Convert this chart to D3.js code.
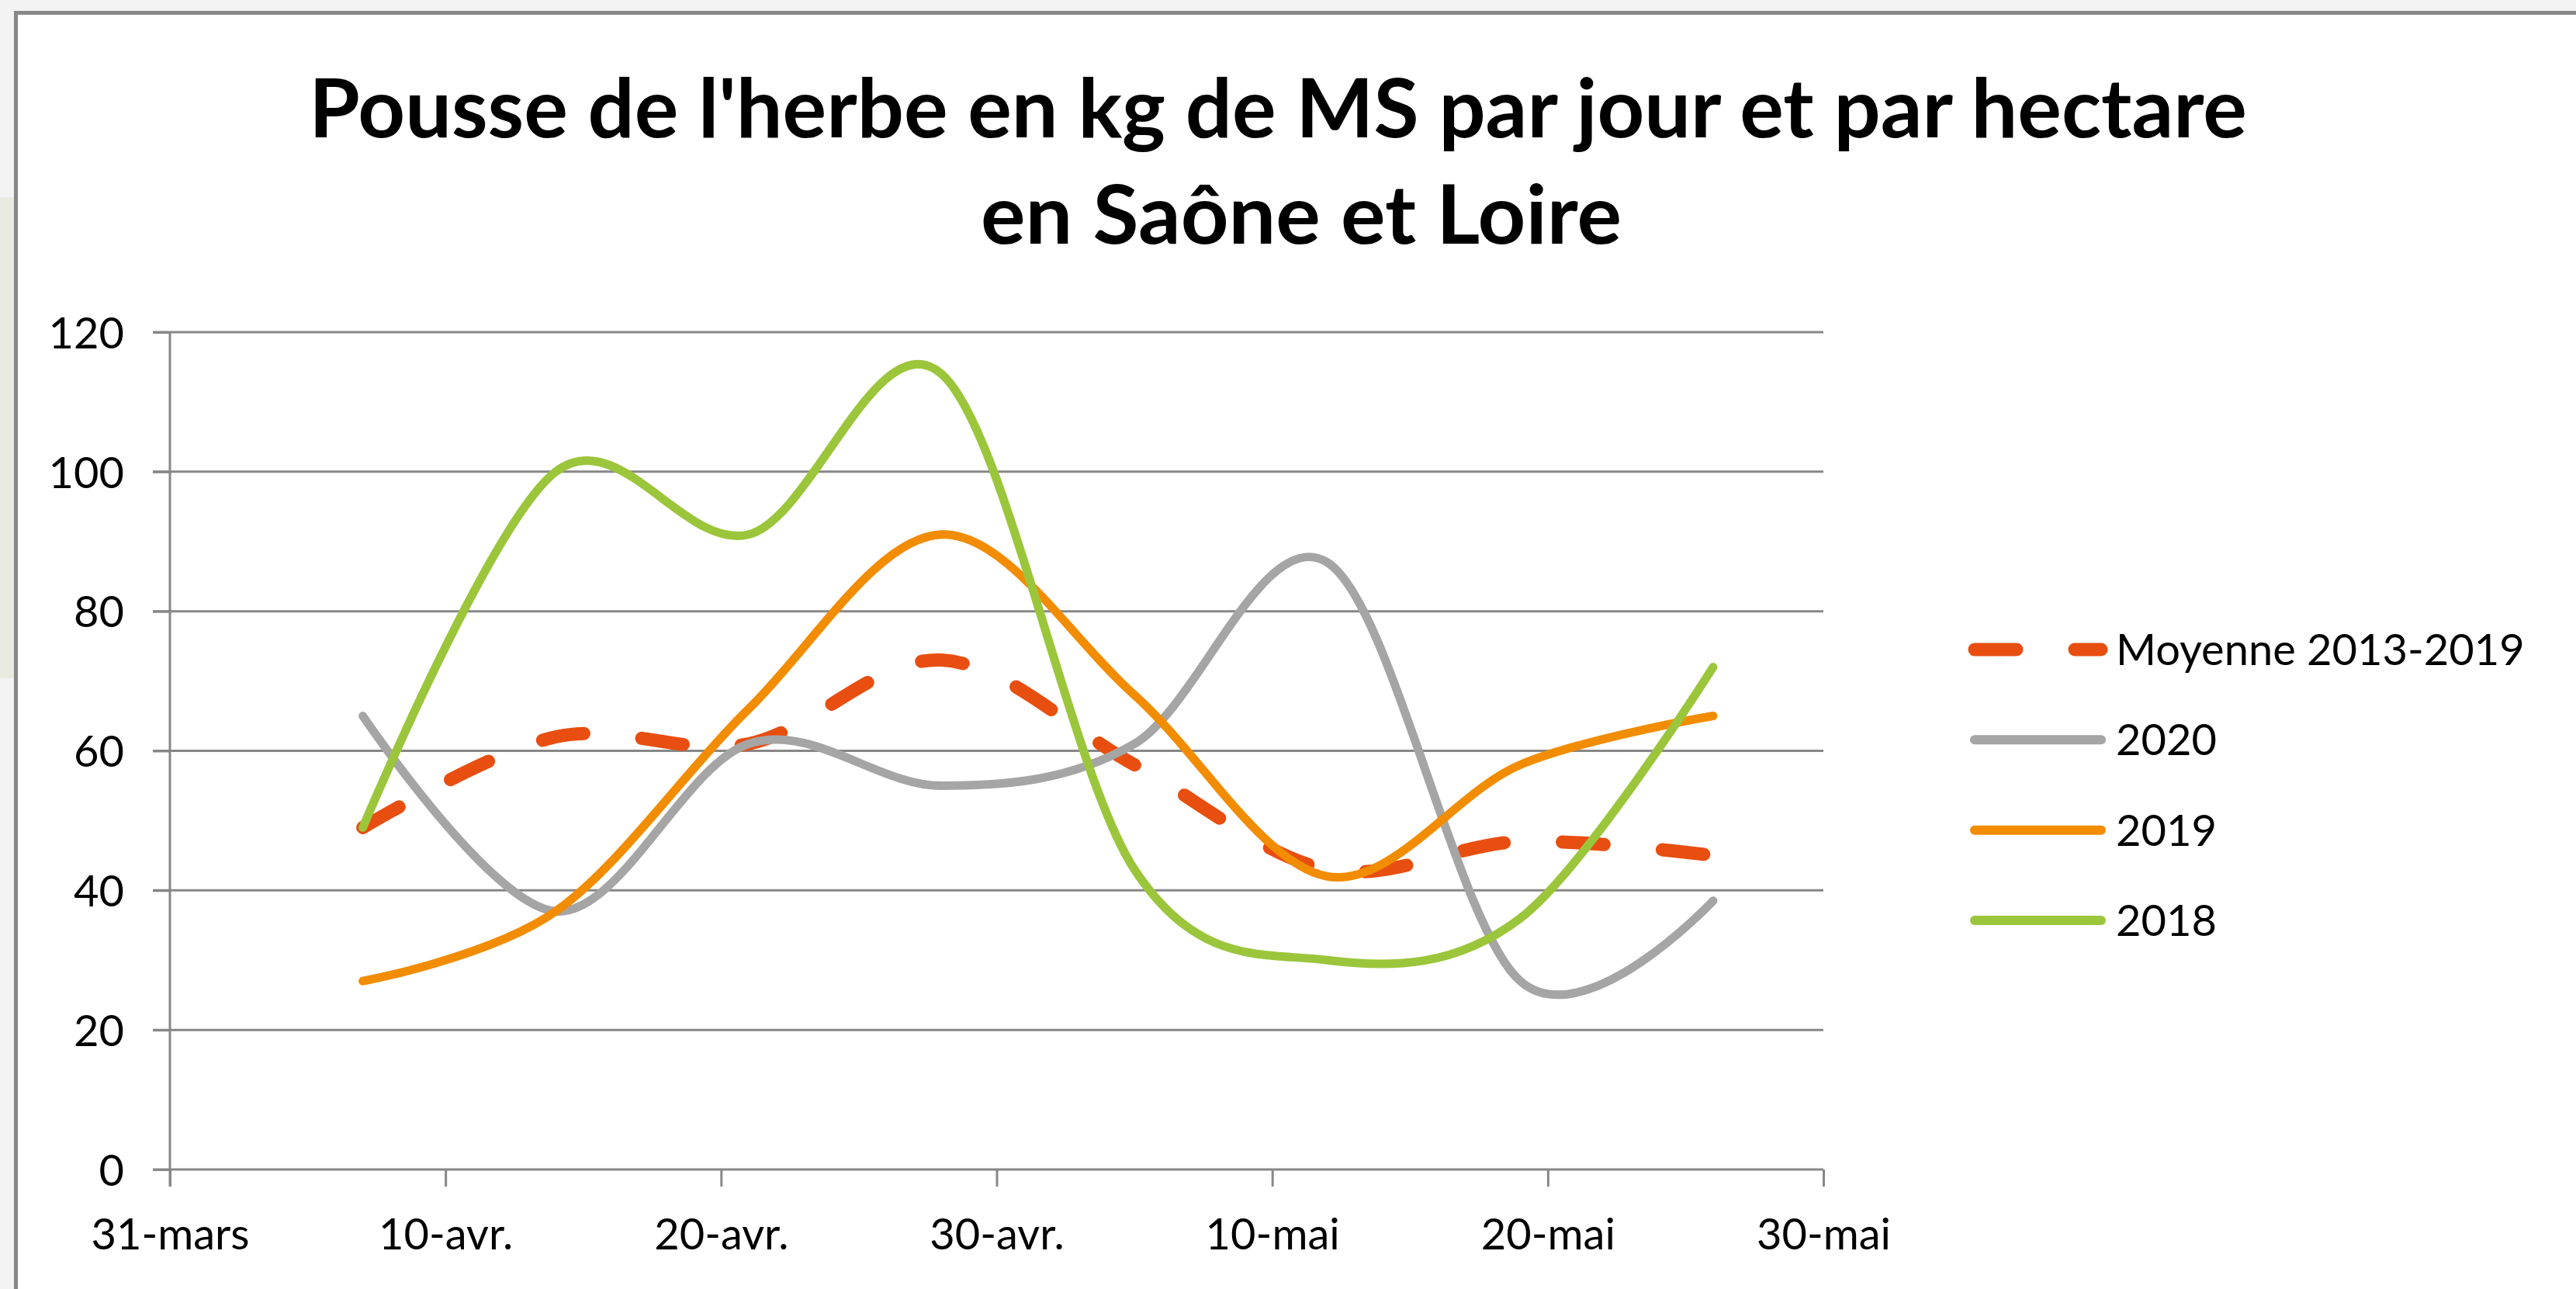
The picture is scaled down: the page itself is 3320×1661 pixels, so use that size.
<!DOCTYPE html>
<html>
<head>
<meta charset="utf-8">
<script src="https://cdn.jsdelivr.net/npm/d3@7"></script>
<style>
  html, body { margin: 0; padding: 0; background: #f2f2f2; }
  svg { display: block; }
</style>
</head>
<body>
<svg id="chart" width="3320" height="1661"></svg>
<script>
// ---------- data ----------
const dates = ["2020-04-07","2020-04-14","2020-04-21","2020-04-28","2020-05-05","2020-05-12","2020-05-19","2020-05-26"];
const moyenne = [49, 62, 61, 73, 58, 43, 47, 45];
const y2020   = [65, 37, 61, 55, 61, 87, 27, 38.5];
const y2019   = [27, 37, 66, 91, 68, 42, 58, 65];
const y2018   = [49, 100, 91, 114, 43, 30, 36, 72];
const seriesNames = ["Moyenne 2013-2019", "2020", "2019", "2018"];
const xTickDates  = ["2020-03-31","2020-04-10","2020-04-20","2020-04-30","2020-05-10","2020-05-20","2020-05-30"];
const xTickLabels = ["31-mars","10-avr.","20-avr.","30-avr.","10-mai","20-mai","30-mai"];
const yTicks = [0, 20, 40, 60, 80, 100, 120];
const titleLines = ["Pousse de l'herbe en kg de MS par jour et par hectare", "en Saône et Loire"];

// ---------- styling ----------
const colors = ["#E84E10", "#A5A5A5", "#F28C00", "#9BC63B"];
const widths = [17, 11, 11, 11];
const dashes = ["54,75", null, null, null];
const gridColor = "#878787";
const font = "Lato, 'Open Sans', sans-serif";

const parse = d3.timeParse("%Y-%m-%d");
const svg = d3.select("#chart");

// background / frame
svg.append("rect").attr("x", 0).attr("y", 0).attr("width", 3320).attr("height", 1661).attr("fill", "#f3f3f3");
svg.append("rect").attr("x", 0).attr("y", 254).attr("width", 20).attr("height", 620).attr("fill", "#e9ebe3");
svg.append("rect").attr("x", 20.5).attr("y", 16.5).attr("width", 3400).attr("height", 1700)
   .attr("fill", "#ffffff").attr("stroke", "#878787").attr("stroke-width", 5);

// scales
const x = d3.scaleTime()
  .domain([parse(xTickDates[0]), parse(xTickDates[xTickDates.length - 1])])
  .range([219, 2350]);
const y = d3.scaleLinear().domain([0, 120]).range([1507, 428]);

// gridlines
svg.append("g").selectAll("line")
  .data(yTicks.filter(d => d > 0))
  .join("line")
  .attr("x1", 197).attr("x2", x.range()[1])
  .attr("y1", d => y(d)).attr("y2", d => y(d))
  .attr("stroke", gridColor).attr("stroke-width", 3);

// y axis
const yAxis = svg.append("g").attr("transform", `translate(${x.range()[0]},0)`)
  .call(d3.axisLeft(y).tickValues(yTicks).tickSize(22).tickPadding(37).tickFormat(d3.format("d")));
yAxis.select(".domain").attr("stroke", gridColor).attr("stroke-width", 3)
  .attr("d", `M0,${y(120)}V${y(0) + 22}`);
yAxis.selectAll(".tick line").attr("stroke", gridColor).attr("stroke-width", 3);
yAxis.selectAll(".tick text")
  .attr("font-family", font).attr("font-size", 56).attr("fill", "#000")
  .attr("dy", "0.36em");

// x axis
const xAxis = svg.append("g").attr("transform", `translate(0,${y(0)})`)
  .call(d3.axisBottom(x).tickValues(xTickDates.map(parse)).tickSize(22)
        .tickFormat((d, i) => xTickLabels[i]));
xAxis.select(".domain").attr("stroke", gridColor).attr("stroke-width", 3)
  .attr("d", `M${x.range()[0] - 22},0H${x.range()[1]}`);
xAxis.selectAll(".tick line").attr("stroke", gridColor).attr("stroke-width", 3);
xAxis.selectAll(".tick text")
  .attr("font-family", font).attr("font-size", 56).attr("fill", "#000")
  .attr("y", 103).attr("dy", 0);

// series
const allSeries = [moyenne, y2020, y2019, y2018];
const line = d3.line()
  .x(d => x(d[0])).y(d => y(d[1]))
  .curve(d3.curveCardinal.tension(0));
const gSeries = svg.append("g").attr("fill", "none");
allSeries.forEach((vals, i) => {
  const pts = dates.map((dt, j) => [parse(dt), vals[j]]);
  gSeries.append("path")
    .attr("d", line(pts))
    .attr("stroke", colors[i])
    .attr("stroke-width", widths[i])
    .attr("stroke-linecap", "round")
    .attr("stroke-linejoin", "round")
    .attr("stroke-dasharray", dashes[i]);
});

// legend
const legendY = d3.scalePoint().domain(seriesNames).range([837, 1186]);
const legend = svg.append("g");
seriesNames.forEach((name, i) => {
  const ly = legendY(name);
  legend.append("line")
    .attr("x1", 2545).attr("x2", 2708).attr("y1", ly).attr("y2", ly)
    .attr("stroke", colors[i]).attr("stroke-width", widths[i] + (i === 0 ? 0 : 1))
    .attr("stroke-linecap", "round")
    .attr("stroke-dasharray", dashes[i]);
  legend.append("text")
    .attr("x", 2727).attr("y", ly).attr("dy", "0.36em")
    .attr("font-family", font).attr("font-size", 56).attr("fill", "#000")
    .text(name);
});

// title
const titleSpecs = [
  { cx: 1647, base: 177, w: 2498 },
  { cx: 1677, base: 314, w: 826 }
];
titleLines.forEach((t, i) => {
  const s = titleSpecs[i];
  const g = svg.append("g").attr("transform", `translate(${s.cx},${s.base})`);
  const txt = g.append("text")
    .attr("text-anchor", "middle")
    .attr("font-family", font).attr("font-weight", 700).attr("font-size", 105)
    .attr("fill", "#000")
    .text(t);
  const w = txt.node().getComputedTextLength();
  if (w > 0) txt.attr("transform", `scale(${s.w / w},1)`);
});
</script>
</body>
</html>
